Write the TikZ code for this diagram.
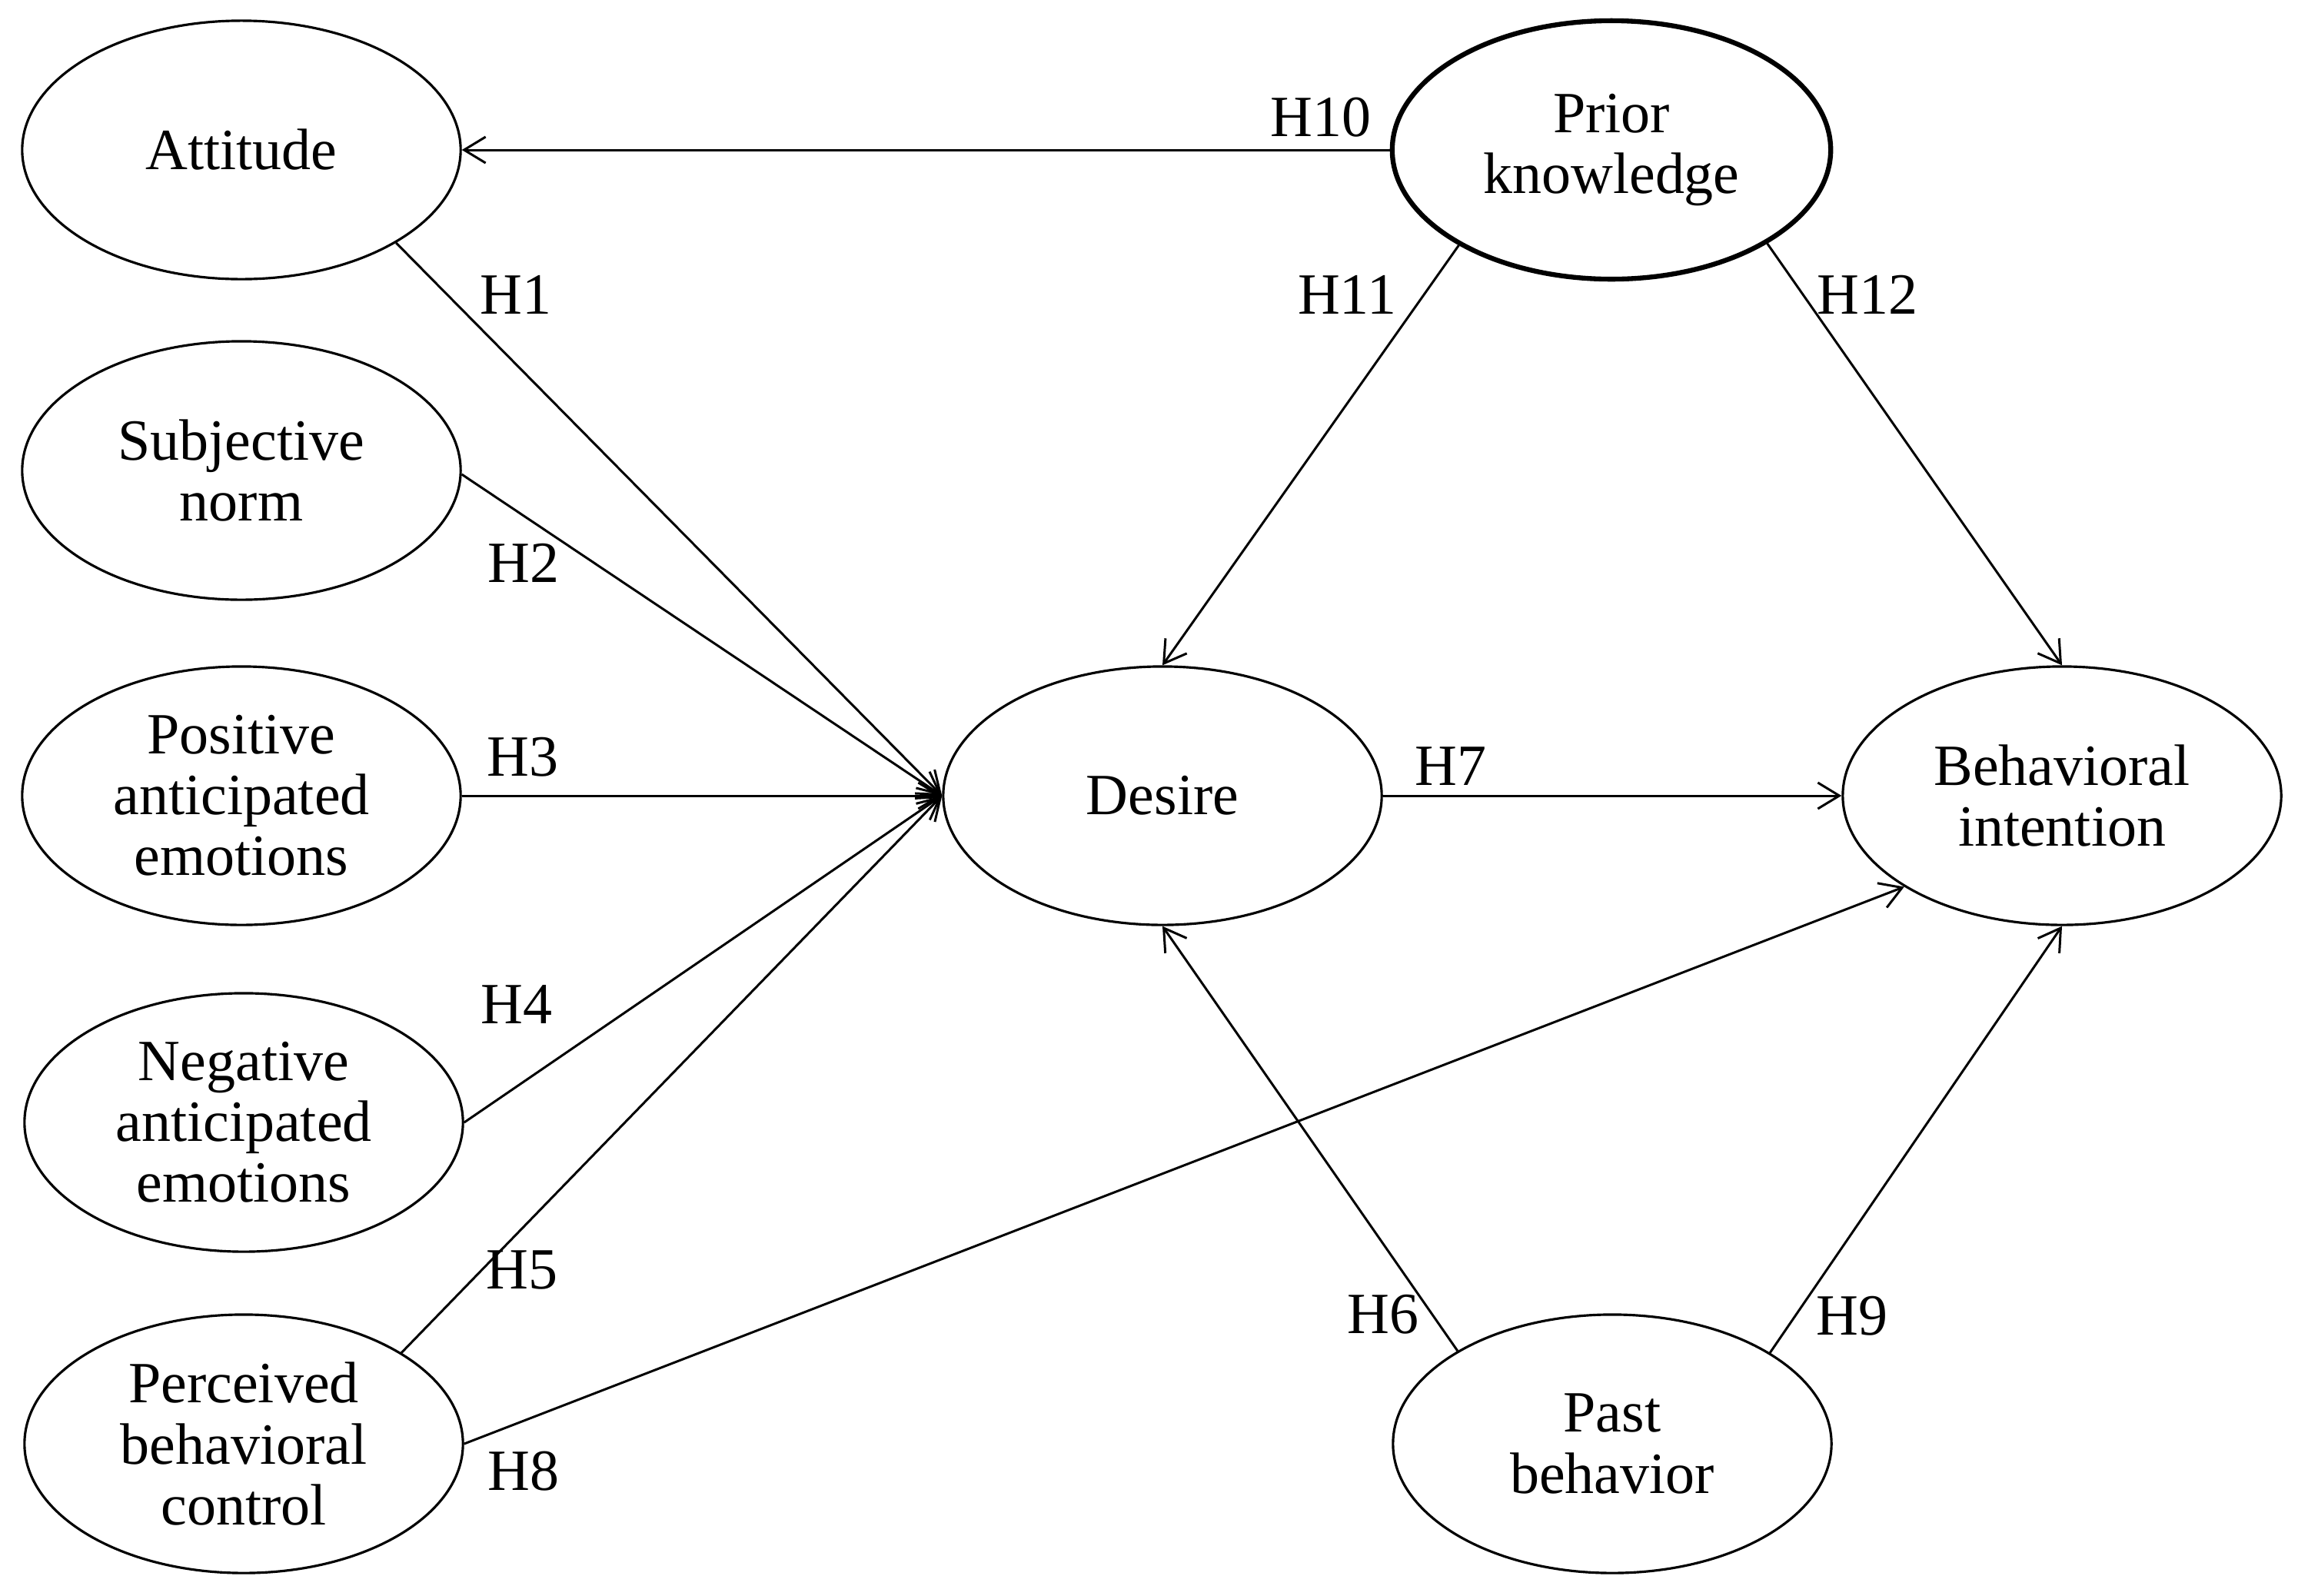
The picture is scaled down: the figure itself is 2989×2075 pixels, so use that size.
\documentclass[tikz,border=0pt]{standalone}
\usepackage{fontspec}
\setmainfont{Liberation Serif}
\usetikzlibrary{shapes.geometric,arrows.meta}
\tikzset{
  ell/.style={ellipse, draw, line width=0.9pt, minimum width=5.7cm, minimum height=3.36cm,
    inner sep=0pt, align=center, font=\fontsize{21.6}{22.5}\selectfont},
  ellbold/.style={ell, line width=1.8pt},
  lab/.style={inner sep=0pt, font=\fontsize{21.6}{22.5}\selectfont},
  arr/.style={line width=0.85pt, -{Straight Barb[length=0.28cm,width=0.34cm,line width=0.85pt]}}
}
\begin{document}
\begin{tikzpicture}[x=0.01cm,y=-0.01cm]
\fill[white] (0,0) rectangle (2989,2075);
\useasboundingbox (0,0) rectangle (2989,2075);
% nodes
\node[ell] (att) at (314,195) {Attitude};
\node[ell] (sub) at (314,612) {Subjective\\norm};
\node[ell] (pos) at (314,1035) {Positive\\anticipated\\emotions};
\node[ell] (neg) at (317,1460) {Negative\\anticipated\\emotions};
\node[ell] (per) at (317,1878) {Perceived\\behavioral\\control};
\node[ell] (des) at (1512,1035) {Desire};
\node[ell] (bi) at (2682,1035) {Behavioral\\intention};
\node[ellbold] (pk) at (2096,195) {Prior\\knowledge};
\node[ell] (past) at (2097,1878) {Past\\behavior};
% connectors
\draw[arr] (pk.west) -- (att.east);
\draw[arr] (att.-31.5) -- (des.west);
\draw[arr] (sub.-1) -- (des.west);
\draw[arr] (pos.east) -- (des.west);
\draw[arr] (neg.east) -- (des.west);
\draw[arr] (per.30) -- (des.west);
\draw[arr] (per.east) -- (bi.-150);
\draw[arr] (des.east) -- (bi.west);
\draw[arr] (pk.-148) -- (des.north);
\draw[arr] (pk.-31.3) -- (bi.north);
\draw[arr] (past.149) -- (des.south);
\draw[arr] (past.30.4) -- (bi.south);
% labels
\node[lab] (h1) at (671,383) {H1};
\node[lab] (h2) at (681,732) {H2};
\node[lab] (h3) at (680,985) {H3};
\node[lab] (h4) at (672,1306) {H4};
\node[lab] (h5) at (679,1652) {H5};
\node[lab] (h6) at (1799,1710) {H6};
\node[lab] (h7) at (1887,997) {H7};
\node[lab] (h8) at (681,1914) {H8};
\node[lab] (h9) at (2409,1712) {H9};
\node[lab] (h10) at (1718,153) {H10};
\node[lab] (h11) at (1752,383) {H11};
\node[lab] (h12) at (2429,383) {H12};
\end{tikzpicture}
\end{document}
